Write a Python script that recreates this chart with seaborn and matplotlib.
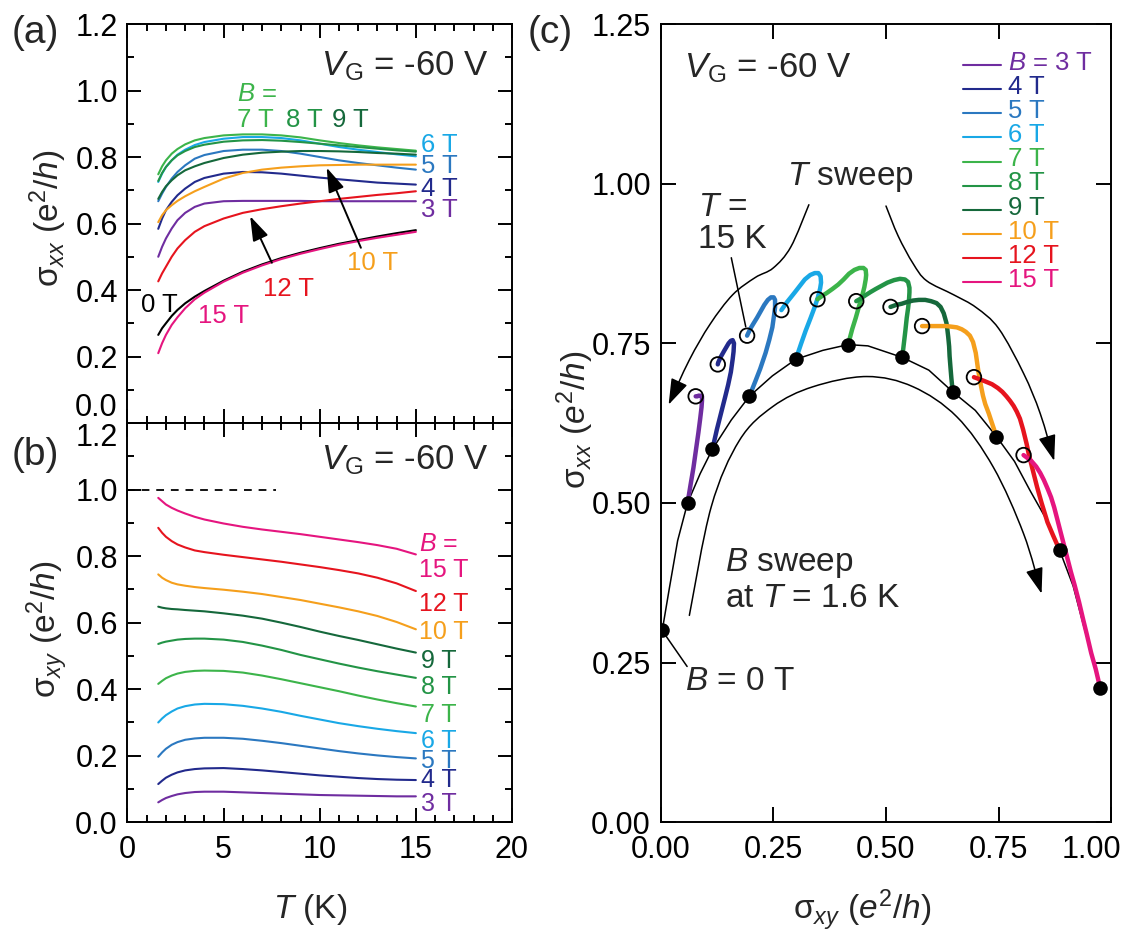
import numpy as np
import pandas as pd
import matplotlib
matplotlib.use("Agg")
import matplotlib.pyplot as plt
import seaborn as sns
from matplotlib.path import Path
from matplotlib.patches import FancyArrowPatch
from matplotlib.transforms import ScaledTranslation

# ---------------------------------------------------------------- data
# temperature grid of the T sweeps (K)
T_K = [1.6, 1.8, 2.0, 2.3, 2.6, 3.0, 3.5, 4.0, 5, 6, 7, 8, 9, 10, 11, 12, 13, 14, 15]

# longitudinal conductivity sigma_xx (e^2/h) at each field
sxx_0T = [0.265, 0.285, 0.300, 0.322, 0.340, 0.360, 0.380, 0.397, 0.428, 0.455, 0.477, 0.496, 0.512, 0.526, 0.539, 0.550, 0.561, 0.571, 0.580]
sxx_3T = [0.500, 0.530, 0.555, 0.585, 0.610, 0.632, 0.650, 0.660, 0.667, 0.668, 0.668, 0.668, 0.668, 0.667, 0.667, 0.667, 0.667, 0.667, 0.667]
sxx_4T = [0.584, 0.615, 0.640, 0.665, 0.685, 0.705, 0.725, 0.737, 0.750, 0.755, 0.754, 0.750, 0.744, 0.738, 0.733, 0.728, 0.723, 0.720, 0.717]
sxx_5T = [0.667, 0.690, 0.710, 0.735, 0.755, 0.775, 0.795, 0.806, 0.818, 0.822, 0.822, 0.818, 0.810, 0.800, 0.790, 0.782, 0.775, 0.768, 0.762]
sxx_6T = [0.725, 0.750, 0.770, 0.790, 0.807, 0.822, 0.836, 0.845, 0.855, 0.860, 0.860, 0.857, 0.850, 0.840, 0.830, 0.822, 0.815, 0.808, 0.802]
sxx_7T = [0.748, 0.772, 0.790, 0.810, 0.824, 0.838, 0.850, 0.857, 0.865, 0.868, 0.868, 0.865, 0.859, 0.850, 0.842, 0.835, 0.829, 0.824, 0.819]
sxx_8T = [0.728, 0.752, 0.770, 0.790, 0.805, 0.818, 0.830, 0.837, 0.846, 0.850, 0.851, 0.849, 0.845, 0.840, 0.835, 0.830, 0.825, 0.820, 0.816]
sxx_9T = [0.674, 0.695, 0.712, 0.730, 0.745, 0.760, 0.772, 0.782, 0.797, 0.807, 0.813, 0.816, 0.818, 0.818, 0.817, 0.815, 0.812, 0.810, 0.807]
sxx_10T = [0.604, 0.625, 0.640, 0.655, 0.668, 0.682, 0.697, 0.710, 0.735, 0.752, 0.762, 0.768, 0.772, 0.775, 0.776, 0.777, 0.777, 0.777, 0.777]
sxx_12T = [0.426, 0.450, 0.470, 0.500, 0.525, 0.550, 0.575, 0.592, 0.615, 0.632, 0.643, 0.652, 0.660, 0.667, 0.674, 0.680, 0.686, 0.691, 0.697]
sxx_15T = [0.210, 0.240, 0.265, 0.295, 0.318, 0.345, 0.372, 0.392, 0.425, 0.452, 0.474, 0.493, 0.509, 0.523, 0.536, 0.547, 0.557, 0.566, 0.575]

# Hall conductivity sigma_xy (e^2/h) at each field
sxy_3T = [0.060, 0.067, 0.073, 0.079, 0.084, 0.088, 0.091, 0.092, 0.092, 0.090, 0.088, 0.086, 0.084, 0.082, 0.081, 0.080, 0.079, 0.078, 0.078]
sxy_4T = [0.115, 0.125, 0.134, 0.143, 0.150, 0.156, 0.160, 0.162, 0.163, 0.160, 0.156, 0.151, 0.146, 0.141, 0.137, 0.133, 0.130, 0.128, 0.127]
sxy_5T = [0.197, 0.210, 0.221, 0.233, 0.241, 0.248, 0.252, 0.254, 0.254, 0.251, 0.245, 0.238, 0.230, 0.222, 0.214, 0.207, 0.201, 0.196, 0.192]
sxy_6T = [0.300, 0.312, 0.322, 0.333, 0.342, 0.349, 0.354, 0.356, 0.355, 0.350, 0.342, 0.332, 0.320, 0.309, 0.298, 0.289, 0.281, 0.274, 0.268]
sxy_7T = [0.416, 0.425, 0.433, 0.441, 0.447, 0.452, 0.455, 0.456, 0.455, 0.450, 0.441, 0.430, 0.418, 0.406, 0.394, 0.381, 0.369, 0.358, 0.348]
sxy_8T = [0.536, 0.540, 0.543, 0.546, 0.549, 0.551, 0.552, 0.552, 0.549, 0.542, 0.531, 0.518, 0.503, 0.490, 0.477, 0.465, 0.454, 0.444, 0.434]
sxy_9T = [0.648, 0.645, 0.643, 0.641, 0.640, 0.638, 0.636, 0.634, 0.628, 0.621, 0.612, 0.600, 0.587, 0.573, 0.560, 0.548, 0.535, 0.522, 0.510]
sxy_10T = [0.745, 0.735, 0.728, 0.720, 0.715, 0.711, 0.707, 0.704, 0.699, 0.693, 0.686, 0.677, 0.668, 0.657, 0.646, 0.634, 0.620, 0.602, 0.580]
sxy_12T = [0.885, 0.870, 0.858, 0.845, 0.835, 0.826, 0.817, 0.812, 0.804, 0.797, 0.790, 0.783, 0.775, 0.767, 0.758, 0.748, 0.735, 0.718, 0.695]
sxy_15T = [0.975, 0.965, 0.955, 0.945, 0.937, 0.928, 0.918, 0.910, 0.898, 0.888, 0.880, 0.873, 0.866, 0.858, 0.850, 0.842, 0.833, 0.822, 0.805]

# field sweep at T = 1.6 K (sigma_xy, sigma_xx)
bsweep_sxy = [0.004, 0.020, 0.038, 0.060, 0.088, 0.115, 0.157, 0.197, 0.248, 0.300, 0.360, 0.416, 0.460,
              0.536, 0.595, 0.648, 0.698, 0.745, 0.785, 0.819, 0.855, 0.885, 0.915, 0.937, 0.957, 0.975]
bsweep_sxx = [0.301, 0.368, 0.441, 0.500, 0.546, 0.584, 0.630, 0.667, 0.699, 0.725, 0.739, 0.748, 0.746,
              0.728, 0.708, 0.674, 0.645, 0.604, 0.565, 0.520, 0.475, 0.426, 0.370, 0.311, 0.260, 0.210]

fields = ["3 T", "4 T", "5 T", "6 T", "7 T", "8 T", "9 T", "10 T", "12 T", "15 T"]
sxx_sets = [sxx_3T, sxx_4T, sxx_5T, sxx_6T, sxx_7T, sxx_8T, sxx_9T, sxx_10T, sxx_12T, sxx_15T]
sxy_sets = [sxy_3T, sxy_4T, sxy_5T, sxy_6T, sxy_7T, sxy_8T, sxy_9T, sxy_10T, sxy_12T, sxy_15T]

colors = {"0 T": "#000000", "3 T": "#6f2da0", "4 T": "#222a8c", "5 T": "#2b78c0",
          "6 T": "#19a8e6", "7 T": "#3cb44a", "8 T": "#239446", "9 T": "#15683b",
          "10 T": "#f59f1c", "12 T": "#e6141e", "15 T": "#e5157f"}

# long-form tables
rows_xx = [(t, "0 T", v) for t, v in zip(T_K, sxx_0T)]
rows_xy, rows_c = [], []
for f, xx, xy in zip(fields, sxx_sets, sxy_sets):
    for t, a, b in zip(T_K, xx, xy):
        rows_xx.append((t, f, a))
        rows_xy.append((t, f, b))
        rows_c.append((t, f, b, a))
df_xx = pd.DataFrame(rows_xx, columns=["T", "B", "sxx"])
df_xy = pd.DataFrame(rows_xy, columns=["T", "B", "sxy"])
df_c = pd.DataFrame(rows_c, columns=["T", "B", "sxy", "sxx"])
df_sweep = pd.DataFrame({"sxy": bsweep_sxy, "sxx": bsweep_sxx})
df_start = df_c[df_c["T"] == T_K[0]]
df_end = df_c[df_c["T"] == T_K[-1]]

# ---------------------------------------------------------------- style
sns.set_theme(style="ticks")
plt.rcParams["font.family"] = ["Liberation Sans", "DejaVu Sans"]
plt.rcParams["mathtext.fontset"] = "custom"
plt.rcParams["mathtext.rm"] = "Liberation Sans"
plt.rcParams["mathtext.it"] = "Liberation Sans:italic"
plt.rcParams["mathtext.bf"] = "Liberation Sans:bold"
plt.rcParams["axes.linewidth"] = 1.4

TICK_FS = 22
LAB_FS = 24

fig = plt.figure(figsize=(11.26, 9.34), dpi=100)
ax_a = fig.add_axes([0.11323, 0.54711, 0.34147, 0.42719])
ax_b = fig.add_axes([0.11323, 0.11959, 0.34147, 0.42752])
ax_c = fig.add_axes([0.58659, 0.11959, 0.40053, 0.85471])


def style_tb(ax, bottom_labels):
    ax.set_xlim(0, 20)
    ax.set_ylim(0, 1.2)
    ax.set_xticks([0, 5, 10, 15, 20])
    ax.set_xticks(np.arange(0, 21, 1), minor=True)
    ax.set_yticks([0.0, 0.2, 0.4, 0.6, 0.8, 1.0, 1.2])
    ax.set_yticks(np.arange(0, 1.21, 0.1), minor=True)
    ax.yaxis.set_major_formatter(matplotlib.ticker.FormatStrFormatter("%.1f"))
    ax.tick_params(which="both", direction="in", top=True, right=True, width=1.4,
                   colors="black", labelsize=TICK_FS, pad=7)
    ax.tick_params(which="major", length=10)
    ax.tick_params(which="minor", length=5)
    ax.tick_params(axis="x", labelbottom=bottom_labels, pad=9)
    for s in ax.spines.values():
        s.set_color("black")


# ---------------------------------------------------------------- (a) sigma_xx(T)
order_a = ["0 T"] + fields
sns.lineplot(data=df_xx, x="T", y="sxx", hue="B", hue_order=order_a, palette=colors,
             estimator=None, sort=False, lw=1.5, legend=False, ax=ax_a)
style_tb(ax_a, False)
ax_a.set_xlabel("")
ax_a.set_ylabel("σ$_{xx}$ (e$^2$/$h$)", fontsize=LAB_FS)
ax_a.yaxis.set_label_coords(-0.207, 0.514)
ax_a.yaxis.label.set_va("center")
ax_a.yaxis.get_major_ticks()[0].label1.set_va("bottom")

ax_a.text(18.8, 1.074, "$V_\\mathrm{G}$ = -60 V", fontsize=25, ha="right", va="center")
lab_a = dict(fontsize=18.5, va="center")
ax_a.text(5.68, 0.988, "$B$ =", color=colors["7 T"], **lab_a)
ax_a.text(5.68, 0.911, "7 T", color=colors["7 T"], **lab_a)
ax_a.text(8.26, 0.911, "8 T", color=colors["8 T"], **lab_a)
ax_a.text(10.65, 0.911, "9 T", color=colors["9 T"], **lab_a)
ax_a.text(15.28, 0.835, "6 T", color=colors["6 T"], **lab_a)
ax_a.text(15.28, 0.772, "5 T", color=colors["5 T"], **lab_a)
ax_a.text(15.28, 0.704, "4 T", color=colors["4 T"], **lab_a)
ax_a.text(15.28, 0.641, "3 T", color=colors["3 T"], **lab_a)
ax_a.text(11.44, 0.482, "10 T", color=colors["10 T"], **lab_a)
ax_a.text(7.07, 0.403, "12 T", color=colors["12 T"], **lab_a)
ax_a.text(0.70, 0.356, "0 T", color="black", **lab_a)
ax_a.text(3.67, 0.321, "15 T", color=colors["15 T"], **lab_a)

arrow_kw = dict(arrowstyle="-|>,head_length=0.75,head_width=0.25", mutation_scale=20,
                lw=1.4, color="black", shrinkA=0, shrinkB=0)
ax_a.annotate("", xy=(6.38, 0.622), xytext=(7.51, 0.482), arrowprops=arrow_kw)
ax_a.annotate("", xy=(10.36, 0.768), xytext=(12.14, 0.527), arrowprops=arrow_kw)

# ---------------------------------------------------------------- (b) sigma_xy(T)
sns.lineplot(data=df_xy, x="T", y="sxy", hue="B", hue_order=fields, palette=colors,
             estimator=None, sort=False, lw=1.5, legend=False, ax=ax_b)
style_tb(ax_b, True)
ax_b.hlines(1.0, 0, 7.7, colors="black", lw=1.3, linestyles=(0, (4.3, 3.8)))
ax_b.set_xlabel("$T$ (K)", fontsize=LAB_FS)
ax_b.xaxis.set_label_coords(0.4746, -0.2196)
ax_b.xaxis.label.set_va("center")
ax_b.set_ylabel("σ$_{xy}$ (e$^2$/$h$)", fontsize=LAB_FS)
ax_b.yaxis.set_label_coords(-0.209, 0.484)
ax_b.yaxis.label.set_va("center")
ax_b.yaxis.get_major_ticks()[-1].label1.set_va("top")

ax_b.text(18.8, 1.087, "$V_\\mathrm{G}$ = -60 V", fontsize=25, ha="right", va="center")
lab_b = [("$B$ =", "15 T", 15.15, 0.836), ("15 T", "15 T", 15.15, 0.757),
         ("12 T", "12 T", 15.15, 0.656), ("10 T", "10 T", 15.15, 0.572),
         ("9 T", "9 T", 15.28, 0.486), ("8 T", "8 T", 15.28, 0.406),
         ("7 T", "7 T", 15.28, 0.323), ("6 T", "6 T", 15.28, 0.245),
         ("5 T", "5 T", 15.28, 0.183), ("4 T", "4 T", 15.28, 0.128),
         ("3 T", "3 T", 15.28, 0.055)]
for txt, key, tx, ty in lab_b:
    ax_b.text(tx, ty, txt, color=colors[key], fontsize=18, va="center")

# ---------------------------------------------------------------- (c) flow diagram
ax_c.set_xlim(0, 1.0)
ax_c.set_ylim(0, 1.25)
ax_c.set_xticks([0, 0.25, 0.5, 0.75, 1.0])
ax_c.set_yticks([0, 0.25, 0.5, 0.75, 1.0, 1.25])
ax_c.xaxis.set_major_formatter(matplotlib.ticker.FormatStrFormatter("%.2f"))
ax_c.yaxis.set_major_formatter(matplotlib.ticker.FormatStrFormatter("%.2f"))
ax_c.tick_params(which="major", direction="in", top=True, right=True, length=11,
                 width=1.4, labelsize=TICK_FS, pad=7, colors="black")
ax_c.tick_params(axis="x", pad=9)
ax_c.minorticks_off()
# keep the last x label inside the canvas
last_lab = ax_c.xaxis.get_major_ticks()[-1].label1
last_lab.set_transform(last_lab.get_transform() + ScaledTranslation(-0.2, 0, fig.dpi_scale_trans))

sns.lineplot(data=df_sweep, x="sxy", y="sxx", sort=False, estimator=None,
             color="black", lw=1.1, ax=ax_c)
sns.lineplot(data=df_c, x="sxy", y="sxx", hue="B", hue_order=fields, palette=colors,
             sort=False, estimator=None, lw=3.2, legend=False, ax=ax_c)
sns.scatterplot(x=[bsweep_sxy[0]] + list(df_start["sxy"]), y=[bsweep_sxx[0]] + list(df_start["sxx"]),
                color="black", s=110, linewidth=0, zorder=6, legend=False, ax=ax_c)
sns.scatterplot(data=df_end, x="sxy", y="sxx", facecolor="none", edgecolor="black",
                s=110, linewidth=1.3, zorder=6, legend=False, ax=ax_c)

ax_c.set_xlabel("σ$_{xy}$ ($e^2$/$h$)", fontsize=LAB_FS)
ax_c.xaxis.set_label_coords(0.447, -0.110)
ax_c.xaxis.label.set_va("center")
ax_c.set_ylabel("σ$_{xx}$ ($e^2$/$h$)", fontsize=LAB_FS)
ax_c.yaxis.set_label_coords(-0.190, 0.504)
ax_c.yaxis.label.set_va("center")
for s in ax_c.spines.values():
    s.set_color("black")


def smooth_path(pts):
    """Catmull-Rom spline through the given points, as a cubic Bezier path."""
    p = np.asarray(pts, float)
    verts, codes = [p[0]], [Path.MOVETO]
    n = len(p)
    for i in range(n - 1):
        p0 = p[i - 1] if i > 0 else p[i]
        p3 = p[i + 2] if i + 2 < n else p[i + 1]
        c1 = p[i] + (p[i + 1] - p0) / 6.0
        c2 = p[i + 1] - (p3 - p[i]) / 6.0
        verts += [c1, c2, p[i + 1]]
        codes += [Path.CURVE4] * 3
    return Path(verts, codes)


guide_left = [(0.329, 0.967), (0.289, 0.901), (0.250, 0.868), (0.210, 0.853),
              (0.160, 0.826), (0.110, 0.780), (0.064, 0.724), (0.018, 0.654)]
guide_right = [(0.500, 0.965), (0.527, 0.918), (0.560, 0.875), (0.590, 0.848),
               (0.650, 0.826), (0.700, 0.806), (0.750, 0.773), (0.805, 0.703),
               (0.842, 0.640), (0.873, 0.566)]
guide_inner = [(0.064, 0.324), (0.1125, 0.494), (0.175, 0.598), (0.249, 0.651),
               (0.338, 0.682), (0.457, 0.698), (0.560, 0.682), (0.657, 0.635),
               (0.738, 0.556), (0.805, 0.452), (0.845, 0.358)]
for g in (guide_left, guide_right, guide_inner):
    ax_c.add_patch(FancyArrowPatch(path=smooth_path(g),
                                   arrowstyle="-|>,head_length=0.8,head_width=0.27",
                                   mutation_scale=20, lw=1.1, color="black",
                                   transform=ax_c.transData, zorder=3))

line_kw = dict(arrowstyle="-", lw=1.1, color="black", shrinkA=0, shrinkB=0)
ax_c.annotate("", xy=(0.189, 0.776), xytext=(0.157, 0.884), arrowprops=line_kw)
ax_c.annotate("", xy=(0.005, 0.299), xytext=(0.059, 0.244), arrowprops=line_kw)

ax_c.text(0.053, 1.181, "$V_\\mathrm{G}$ = -60 V", fontsize=25, ha="left", va="center")
ax_c.text(0.420, 1.011, "$T$ sweep", fontsize=24, ha="center", va="center")
ax_c.text(0.084, 0.962, "$T$ =", fontsize=24, ha="left", va="center")
ax_c.text(0.084, 0.912, "15 K", fontsize=24, ha="left", va="center")
ax_c.text(0.144, 0.406, "$B$ sweep", fontsize=24, ha="left", va="center")
ax_c.text(0.144, 0.351, "at $T$ = 1.6 K", fontsize=24, ha="left", va="center")
ax_c.text(0.054, 0.220, "$B$ = 0 T", fontsize=24, ha="left", va="center")

# colour key
key_rows_px = [65, 89.3, 113.3, 137.3, 161.7, 185.7, 210, 234, 258.3, 282.3]
for i, f in enumerate(fields):
    yk = (822.3 - key_rows_px[i]) / 798.3
    ax_c.plot([0.670, 0.7543], [yk, yk], color=colors[f], lw=1.5, transform=ax_c.transAxes)
    txt = "$B$ = " + f if i == 0 else f
    ax_c.text(0.7705, yk + 0.003, txt, color=colors[f], fontsize=18.5, va="center",
              ha="left", transform=ax_c.transAxes)

# panel tags
fig.text(12 / 1126, 1 - 33 / 934, "(a)", fontsize=28, ha="left", va="center")
fig.text(12 / 1126, 1 - 455 / 934, "(b)", fontsize=28, ha="left", va="center")
fig.text(528 / 1126, 1 - 33 / 934, "(c)", fontsize=28, ha="left", va="center")

fig.savefig("out.png", dpi=100)
